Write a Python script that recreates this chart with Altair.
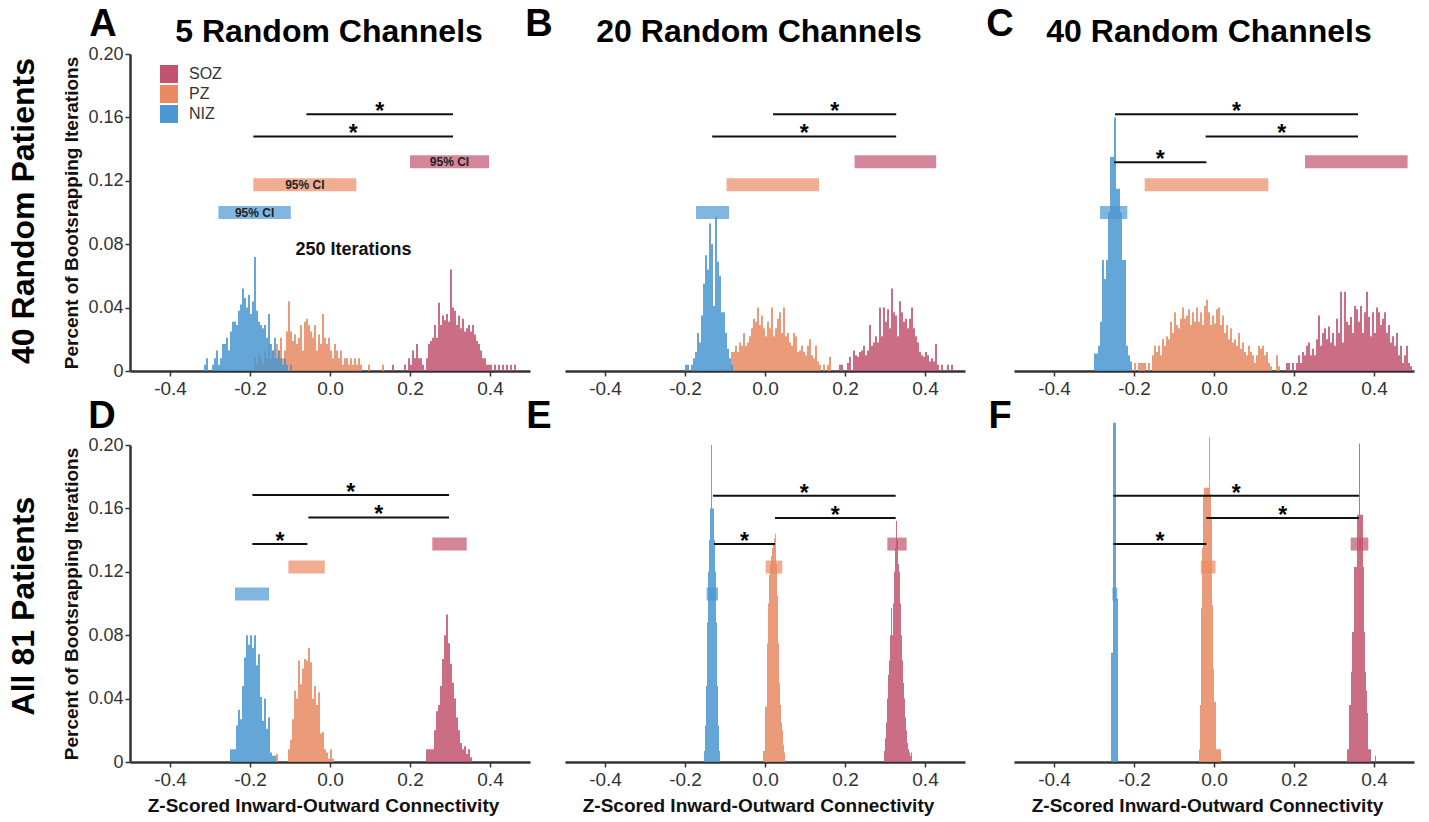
import altair as alt
import pandas as pd

GROUPS = ["SOZ", "PZ", "NIZ"]
COLORS = ["#c2536e", "#e98a63", "#4a97d1"]

X_TICKS = [-0.4, -0.2, 0.0, 0.2, 0.4]
Y_TICKS = [0.0, 0.04, 0.08, 0.12, 0.16, 0.20]

COL_TITLES = ["5 Random Channels", "20 Random Channels", "40 Random Channels"]
ROW_TITLES = ["40 Random Patients", "All 81 Patients"]
LETTERS = ["A", "B", "C", "D", "E", "F"]
Y_TITLE = "Percent of Bootsrapping Iterations"
X_TITLE = "Z-Scored Inward-Outward Connectivity"
CI_LABEL = "95% CI"
ITER_LABEL = "250 Iterations"
ITER_POS = [0.059, 0.0765]

# ---------------- histogram heights (bin start, bin width, heights) ----------------
W_WIDE = 0.005
W_NARROW = 0.0025

A_NIZ_START = -0.315
A_NIZ = [.004, .008, 0, 0, .004, .008, .013, .004, .008, .017, .017, .021, .013, .025, .031, .031,
         .029, .038, .042, .052, .046, .040, .048, .036, .044, .072, .038, .031, .029, .027, .029,
         .021, .036, .017, .013, .021, .008, .013, .008, .004, .008, .004, 0, .004]
A_PZ_START = -0.19
A_PZ = [.008, .004, .013, .008, .004, .013, .008, .017, .008, .013, .008, .017, .013, .021, .008,
        .013, .025, .044, .025, .019, .023, .017, .021, .029, .013, .031, .033, .029, .025, .021,
        .029, .013, .023, .017, .036, .021, .017, .021, .013, .008, .017, .013, .008, .013, .004,
        .008, .008, .004, .008, .004, .008, .004, .008, .004, 0, 0, 0, .004, 0, 0, 0, 0, 0, 0, .004]
A_SOZ_START = 0.155
A_SOZ = [.004, 0, 0, 0, 0, 0, .004, 0, .008, .004, .013, .008, .017, .008, .008, .004, 0, .008,
         .017, .019, .021, .029, .021, .043, .029, .035, .032, .036, .031, .064, .040, .038, .029,
         .035, .027, .033, .025, .027, .029, .025, .029, .023, .019, .017, .013, .008, .008, .004,
         .004, .004, 0, .004, 0, .004, 0, .004, 0, .004, 0, .004, 0, .004]

B_NIZ_START = -0.20
B_NIZ = [.004, .004, 0, .004, .008, .012, .024, .018, .035, .055, .073, .064, .093, .080, .041,
         .097, .069, .060, .037, .037, .024, .014, .008, .004]
B_PZ_START = -0.085
B_PZ = [.012, .012, .016, .012, .018, .016, .024, .016, .018, .022, .027, .033, .031, .040, .029,
        .035, .027, .022, .031, .027, .040, .022, .027, .033, .037, .024, .040, .022, .024, .018,
        .016, .024, .022, .012, .013, .016, .012, .010, .016, .020, .010, .008, .016, .006, .004,
        0, .004, 0, .004, .009]
B_SOZ_START = 0.185
B_SOZ = [.004, .004, 0, 0, .005, .009, 0, .013, .010, .009, .012, .013, .016, .010, .013, .029,
         .016, .018, .022, .018, .040, .022, .040, .031, .039, .027, .052, .037, .035, .022, .044,
         .037, .031, .033, .027, .033, .040, .027, .022, .018, .012, .010, .009, .012, .010, .006,
         .008, .006, .017, .004, 0, .004, 0, 0, .004, 0, .004]

C_NIZ_START = -0.30
C_NIZ = [.011, .011, .016, .031, .070, .058, .070, .100, .135, .135, .160, .115, .115, .100, .070,
         .070, .016, .010, .006]
C_PZ_START = -0.20
C_PZ = [.005, 0, .005, .005, .005, .005, 0, .005, 0, .010, .016, .012, .016, .010, .020, .016,
        .022, .020, .031, .024, .037, .029, .027, .033, .040, .033, .035, .039, .029, .037, .031,
        .040, .031, .037, .029, .041, .045, .037, .029, .035, .030, .039, .040, .029, .035, .024,
        .029, .020, .027, .018, .020, .016, .024, .014, .018, .012, .010, .016, .012, .010, .005,
        .010, .016, .014, .016, .010, .012, .005, .003, 0, 0, .010, .003]
C_SOZ_START = 0.18
C_SOZ = [.005, .005, 0, .005, 0, .005, .010, .005, .012, .010, .016, .018, .010, .014, .010, .020,
         .035, .016, .024, .027, .020, .028, .018, .024, .016, .033, .024, .050, .018, .050, .031,
         .029, .034, .024, .041, .039, .031, .041, .024, .037, .050, .034, .022, .037, .024, .040,
         .037, .029, .033, .037, .024, .029, .018, .022, .016, .024, .010, .016, .005, .010, .016,
         .005, .003]

D_NIZ_START = -0.25
D_NIZ = [.008, .008, .008, .023, .033, .027, .048, .066, .080, .074, .080, .072, .080, .061, .068,
         .041, .026, .040, .021, .028, .006, .004, .004]
D_PZ_START = -0.135
D_PZ = [.005, 0, 0, 0, 0, 0, .008, .014, .027, .045, .040, .064, .049, .059, .065, .064, .072,
        .063, .040, .048, .036, .044, .018, .019, .008, .006, .002, .008, .002]
D_SOZ_START = 0.24
D_SOZ = [.008, .008, .008, .008, .020, .032, .036, .048, .065, .080, .093, .075, .062, .050, .040,
         .028, .020, .012, .008, .010, .005, .008, .003]

E_NIZ_START = -0.1525
E_NIZ = [.007, .023, .048, .088, .120, .140, .160, .200, .160, .160, .140, .120, .088, .048, .023,
         .007]
E_PZ_START = -0.005
E_PZ = [.007, .007, .035, .035, .075, .100, .118, .125, .130, .135, .138, .141, .144, .125, .105,
        .075, .050, .036, .025, .020, .011, .006]
E_SOZ_START = 0.2975
E_SOZ = [.007, .015, .025, .040, .055, .064, .080, .097, .080, .100, .120, .135, .152, .140, .125,
         .120, .100, .080, .064, .050, .040, .028, .020, .012, .008, .006, .004, .006]

F_NIZ_START = -0.2575
F_NIZ = [.069, .069, .214, .214, .214, .103, .103]
F_PZ_START = -0.0375
F_PZ = [.008, .036, .097, .135, .169, .173, .173, .173, .173, .173, .205, .169, .154, .099, .059,
        .038, .038, .008, .008, .008, .008, .008]
F_SOZ_START = 0.3325
F_SOZ = [.008, .008, .036, .036, .057, .082, .082, .123, .123, .123, .156, .156, .201, .156, .156,
         .156, .123, .082, .057, .045, .031, .008, .008, .008, 0, 0, 0, 0, .004]

# ---------------- 95% CI bars (order SOZ, PZ, NIZ) ----------------
CI_LO = {"A": [0.200, -0.1917, -0.279], "B": [0.224, -0.096, -0.1725], "C": [0.2275, -0.1733, -0.285],
         "D": [0.2558, -0.104, -0.2375], "E": [0.3058, 0.0017, -0.146], "F": [0.3417, -0.033, -0.254]}
CI_HI = {"A": [0.3975, 0.0658, -0.098], "B": [0.428, 0.135, -0.09], "C": [0.484, 0.1358, -0.2167],
         "D": [0.3417, -0.013, -0.1525], "E": [0.354, 0.0433, -0.1175], "F": [0.3858, 0.004, -0.2417]}
CI_Y_TOP = [0.132, 0.1175, 0.100]
CI_Y_BOT = [0.1375, 0.123, 0.106]

# ---------------- significance brackets ----------------
SIG_X1 = {"A": [-0.059, -0.1917], "B": [0.02, -0.132], "C": [-0.2475, -0.021, -0.25],
          "D": [-0.194, -0.054, -0.194], "E": [-0.13, 0.025, -0.1275], "F": [-0.2517, -0.019, -0.2517]}
SIG_X2 = {"A": [0.3075, 0.3075], "B": [0.328, 0.328], "C": [0.36, 0.36, -0.019],
          "D": [0.2975, 0.2975, -0.0567], "E": [0.3267, 0.3267, 0.025], "F": [0.3625, 0.3625, -0.019]}
SIG_Y = {"A": [0.162, 0.148], "B": [0.162, 0.148], "C": [0.162, 0.148, 0.1317],
         "D": [0.1684, 0.1543, 0.1376], "E": [0.168, 0.154, 0.1376], "F": [0.168, 0.154, 0.1376]}

HIST = {
    "A": [("SOZ", A_SOZ_START, W_WIDE, A_SOZ), ("PZ", A_PZ_START, W_WIDE, A_PZ), ("NIZ", A_NIZ_START, W_WIDE, A_NIZ)],
    "B": [("SOZ", B_SOZ_START, W_WIDE, B_SOZ), ("PZ", B_PZ_START, W_WIDE, B_PZ), ("NIZ", B_NIZ_START, W_WIDE, B_NIZ)],
    "C": [("SOZ", C_SOZ_START, W_WIDE, C_SOZ), ("PZ", C_PZ_START, W_WIDE, C_PZ), ("NIZ", C_NIZ_START, W_WIDE, C_NIZ)],
    "D": [("SOZ", D_SOZ_START, W_WIDE, D_SOZ), ("PZ", D_PZ_START, W_WIDE, D_PZ), ("NIZ", D_NIZ_START, W_WIDE, D_NIZ)],
    "E": [("SOZ", E_SOZ_START, W_NARROW, E_SOZ), ("PZ", E_PZ_START, W_NARROW, E_PZ), ("NIZ", E_NIZ_START, W_NARROW, E_NIZ)],
    "F": [("SOZ", F_SOZ_START, W_NARROW, F_SOZ), ("PZ", F_PZ_START, W_NARROW, F_PZ), ("NIZ", F_NIZ_START, W_NARROW, F_NIZ)],
}

PLOT_W = 400
PLOT_H = 317

xscale = alt.Scale(domain=[-0.5, 0.5], nice=False, zero=False)
yscale = alt.Scale(domain=[0, 0.2], nice=False, zero=False)
cscale = alt.Scale(domain=GROUPS, range=COLORS)

X_LABEL_EXPR = ("datum.value == 0 ? '0.0' : (datum.value < 0 ? '-' + format(-datum.value, '.1f') "
                ": format(datum.value, '.1f'))")
Y_LABEL_EXPR = "datum.value == 0 ? '0' : format(datum.value, '.2f')"


def x_axis(with_title):
    kw = dict(values=X_TICKS, labelExpr=X_LABEL_EXPR, labelFontSize=19, labelColor="#333",
              tickSize=5, tickColor="#333", tickWidth=1.5, labelPadding=3, domainWidth=2.5,
              domainColor="#333", grid=False, labelFlush=False)
    if with_title:
        kw.update(title=X_TITLE, titleFontSize=19, titleFontWeight="bold", titleColor="#111",
                  titleX=193, titleY=49, titleBaseline="alphabetic", titleAlign="center")
    else:
        kw.update(title=None)
    return alt.Axis(**kw)


def y_axis():
    return alt.Axis(values=Y_TICKS, labelExpr=Y_LABEL_EXPR, labelFontSize=18, labelColor="#333",
                    tickSize=5, tickColor="#333", tickWidth=1.5, labelPadding=2, domainWidth=2.5,
                    domainColor="#333", grid=False, title=Y_TITLE, titleFontSize=19,
                    titleFontWeight="bold", titleColor="#111", titleX=-59, titleY=PLOT_H / 2,
                    titleAngle=270, titleAlign="center", titleBaseline="middle")


def hist_frame(key):
    rows = []
    for g, start, w, hs in HIST[key]:
        for i, h in enumerate(hs):
            if h > 0:
                x0 = round(start + i * w, 6)
                rows.append({"group": g, "x0": x0, "x1": round(x0 + w, 6), "h": h, "y0": 0.0})
    return pd.DataFrame(rows)


def label(text, x, y, size, angle=0, baseline="alphabetic", weight="bold", color="#000"):
    kw = dict(fontSize=size, fontWeight=weight, baseline=baseline, align="center", color=color)
    if angle:
        kw["angle"] = angle
    return alt.Chart(pd.DataFrame({"t": [text]})).mark_text(**kw).encode(
        x=alt.value(x), y=alt.value(y), text="t:N")


def panel(key, row, show_y, legend, letter_x, col_title=None, col_x=None, row_title=None, row_y=None):
    hdf = hist_frame(key)
    ci_y = CI_Y_TOP if row == 0 else CI_Y_BOT
    cdf = pd.DataFrame({"group": GROUPS, "lo": CI_LO[key], "hi": CI_HI[key], "yc": ci_y})
    sdf = pd.DataFrame({"x1": SIG_X1[key], "x2": SIG_X2[key], "y": SIG_Y[key]})
    sdf["mid"] = (sdf["x1"] + sdf["x2"]) / 2
    sdf["star"] = "*"

    if legend:
        leg = alt.Legend(title=None, orient="none", legendX=30, legendY=11, symbolType="square",
                         symbolSize=324, symbolStrokeWidth=0, symbolOpacity=1, labelFontSize=16,
                         labelColor="#333", labelOffset=11, rowPadding=2, padding=0)
    else:
        leg = None

    hist = alt.Chart(hdf).mark_rect(opacity=0.85).encode(
        x=alt.X("x0:Q", scale=xscale, axis=x_axis(row == 1)),
        x2="x1:Q",
        y=alt.Y("h:Q", scale=yscale, axis=y_axis() if show_y else None),
        y2="y0:Q",
        color=alt.Color("group:N", scale=cscale, legend=leg),
    )
    ci = alt.Chart(cdf).mark_rule(strokeWidth=13, opacity=0.7, strokeCap="butt").encode(
        x=alt.X("lo:Q", scale=xscale), x2="hi:Q", y=alt.Y("yc:Q", scale=yscale),
        color=alt.Color("group:N", scale=cscale, legend=None),
    )
    sig = alt.Chart(sdf).mark_rule(strokeWidth=2, color="#111").encode(
        x=alt.X("x1:Q", scale=xscale), x2="x2:Q", y=alt.Y("y:Q", scale=yscale))
    stars = alt.Chart(sdf).mark_text(fontSize=23, fontWeight="bold", baseline="alphabetic",
                                     align="center", dy=5, color="#000").encode(
        x=alt.X("mid:Q", scale=xscale), y=alt.Y("y:Q", scale=yscale), text="star:N")

    layers = [hist, ci, sig, stars]

    if key == "A":
        tdf = pd.DataFrame({"x": [(a + b) / 2 for a, b in zip(CI_LO[key], CI_HI[key])],
                            "y": ci_y, "t": [CI_LABEL] * 3})
        layers.append(alt.Chart(tdf).mark_text(fontSize=12, fontWeight="bold", baseline="middle",
                                               align="center", color="#222").encode(
            x=alt.X("x:Q", scale=xscale), y=alt.Y("y:Q", scale=yscale), text="t:N"))
        idf = pd.DataFrame({"x": [ITER_POS[0]], "y": [ITER_POS[1]], "t": [ITER_LABEL]})
        layers.append(alt.Chart(idf).mark_text(fontSize=18, fontWeight="bold", baseline="middle",
                                               align="center", color="#111").encode(
            x=alt.X("x:Q", scale=xscale), y=alt.Y("y:Q", scale=yscale), text="t:N"))

    letter_y = -18 if row == 0 else -17
    layers.append(label(LETTERS["ABCDEF".index(key)], letter_x, letter_y, 38))
    if col_title:
        layers.append(label(col_title, col_x, -12, 32))
    if row_title:
        layers.append(label(row_title, -106, row_y, 32, angle=270, baseline="middle"))

    return alt.layer(*layers).properties(width=PLOT_W, height=PLOT_H)


pA = panel("A", 0, True, True, -27, COL_TITLES[0], 199, ROW_TITLES[0], 157)
pB = panel("B", 0, False, False, -26, COL_TITLES[1], 194)
pC = panel("C", 0, False, False, -14, COL_TITLES[2], 195)
pD = panel("D", 1, True, False, -28, row_title=ROW_TITLES[1], row_y=161)
pE = panel("E", 1, False, False, -26)
pF = panel("F", 1, False, False, -14)


def hc(a, b, sp):
    return alt.hconcat(a, b, spacing=sp, bounds="flush").resolve_scale(
        color="independent").resolve_legend(color="independent")


row1 = hc(pA, hc(pB, pC, 49), 35)
row2 = hc(pD, hc(pE, pF, 49), 35)

chart = alt.vconcat(row1, row2, spacing=0, bounds="full").resolve_scale(
    color="independent").resolve_legend(color="independent").properties(
    padding={"left": 8, "top": 6, "right": 5, "bottom": 5}
).configure(font="Liberation Sans").configure_view(stroke=None)

chart.save("out.html", embed_options={"renderer": "svg", "actions": False})
